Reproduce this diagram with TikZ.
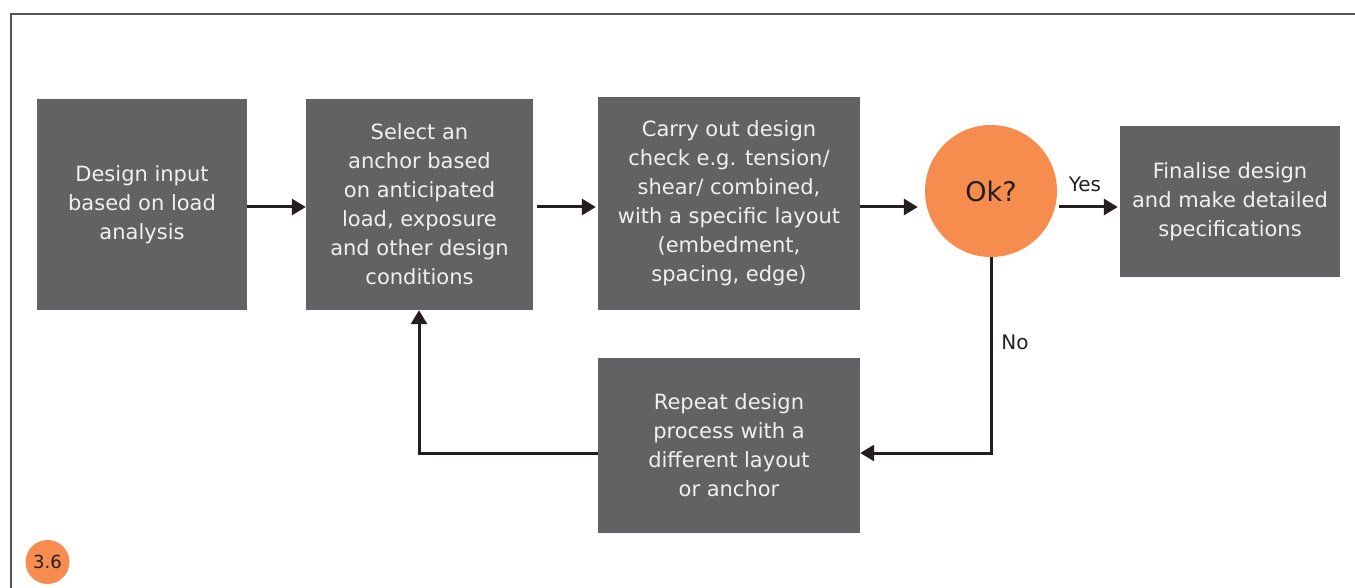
\documentclass[tikz,border=0pt]{standalone}
\usepackage{fontspec}
\setmainfont{DejaVu Sans}
\usetikzlibrary{arrows.meta}
\definecolor{boxgray}{HTML}{626264}
\definecolor{orng}{HTML}{F68D4E}
\definecolor{ink}{HTML}{231F20}
\definecolor{frame}{HTML}{555557}
\tikzset{
  stepbox/.style={rectangle, fill=boxgray, text=white!94!black, inner sep=0pt, align=center,
    font=\fontsize{21}{29}\selectfont},
  okcircle/.style={circle, fill=orng, inner sep=0pt, minimum size=132pt, text=ink,
    font=\fontsize{27}{30}\selectfont},
  tagcircle/.style={circle, fill=orng, inner sep=0pt, minimum size=44pt, text=ink,
    font=\fontsize{18}{20}\selectfont},
  conn/.style={draw=ink, line width=3pt, -{Triangle[length=14pt,width=16pt]}},
  lbl/.style={text=ink, font=\fontsize{20}{22}\selectfont, inner sep=0pt}
}
\begin{document}
\begin{tikzpicture}[x=1pt,y=-1pt]
\useasboundingbox (0,0) rectangle (1355,588);
\fill[white] (0,0) rectangle (1355,588);
\draw[frame, line width=2.2pt] (11,600) -- (11,14) -- (1365,14);

\node[stepbox, minimum width=210pt, minimum height=211pt] (b1) at (142,204.5)
  {Design input\\based on load\\analysis};
\node[stepbox, minimum width=227pt, minimum height=211pt] (b2) at (419.5,204.5)
  {Select an\\anchor based\\on anticipated\\load, exposure\\and other design\\conditions};
\node[stepbox, minimum width=262pt, minimum height=213pt] (b3) at (729,203.5)
  {Carry out design\\check e.g. tension/\\shear/ combined,\\with a specific layout\\(embedment,\\spacing, edge)};
\node[okcircle] (ok) at (991,191) {Ok?};
\node[stepbox, minimum width=220pt, minimum height=151pt] (b5) at (1230,201.5)
  {\raisebox{3pt}{\parbox{220pt}{\centering Finalise design\\and make detailed\\specifications}}};
\node[stepbox, minimum width=262pt, minimum height=175pt] (b4) at (729,445.5)
  {Repeat design\\process with a\\different layout\\or anchor};
\node[tagcircle] (tag) at (47.5,562) {3.6};

\coordinate (c1) at (991,453);
\coordinate (c2) at (419,453);

\draw[conn] (b1.east |- 0,207) -- (b2.west |- 0,207);
\draw[conn, shorten <=4pt, shorten >=2pt] (b2.east |- 0,207) -- (b3.west |- 0,207);
\draw[conn, shorten >=7pt] (b3.east |- 0,207) -- (ok.west |- 0,207);
\draw[conn, shorten <=2pt, shorten >=2pt] (ok.east |- 0,207) -- (b5.west |- 0,207);
\draw[conn] (ok.south) -- (c1) -- (b4.east |- c1);
\draw[conn] (b4.west |- c2) -- (c2) -- (b2.south -| c2);

\node[lbl] (yes) at (1085,184) {Yes};
\node[lbl] (no) at (1015,342) {No};
\end{tikzpicture}
\end{document}
